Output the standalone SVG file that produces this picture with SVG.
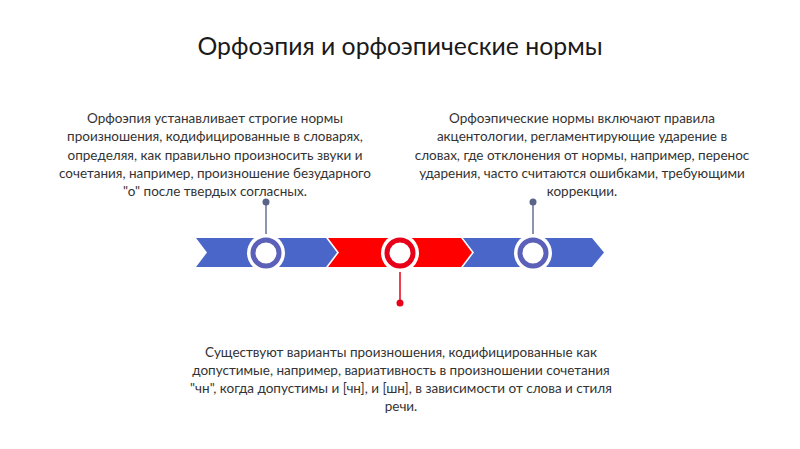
<svg xmlns="http://www.w3.org/2000/svg" width="800" height="449" viewBox="0 0 800 449">
<style>
.t{font-family:Lato,"Open Sans","Liberation Sans",sans-serif;font-size:13.5px;fill:#333;text-anchor:middle}
.title{font-family:Lato,"Open Sans","Liberation Sans",sans-serif;font-size:24.8px;fill:#1a1a1a;text-anchor:middle}
.blue{fill:#4a66c8}
.red{fill:#ff0000}
.halo{fill:#fff}
.rb{fill:#fff;stroke:#5b60b8;stroke-width:5}
.rr{fill:#fff;stroke:#e8001a;stroke-width:5}
.sb{stroke:#6a7192;stroke-width:1.5}
.sr{stroke:#e8001a;stroke-width:1.5}
</style>
<rect width="800" height="449" fill="#fff"/>
<text class="title" x="400" y="55">Орфоэпия и орфоэпические нормы</text>
<g id="connectors">
<line class="sb" x1="266" y1="202" x2="266" y2="238"/>
<circle cx="266" cy="202" r="3.5" fill="#5a6488"/>
<line class="sb" x1="533" y1="202" x2="533" y2="238"/>
<circle cx="533" cy="202" r="3.5" fill="#5a6488"/>
<line class="sr" x1="400" y1="268" x2="400" y2="303"/>
<circle cx="400" cy="303" r="3.5" fill="#e8001a"/>
</g>
<g id="band">
<polygon class="blue" points="196,238 326,238 337,252.5 326,267 196,267 207,252.5"/>
<polygon class="red" points="328,238 461,238 472,252.5 461,267 328,267 339,252.5"/>
<polygon class="blue" points="463,238 592,238 604,252.5 592,267 463,267 474,252.5"/>
</g>
<g id="node1">
<circle class="halo" cx="266" cy="253" r="19"/>
<circle class="rb" cx="266" cy="253" r="13"/>
<text class="t"><tspan x="215" y="123">Орфоэпия устанавливает строгие нормы</tspan><tspan x="215" y="141">произношения, кодифицированные в словарях,</tspan><tspan x="215" y="160">определяя, как правильно произносить звуки и</tspan><tspan x="215" y="178">сочетания, например, произношение безударного</tspan><tspan x="215" y="196">"о" после твердых согласных.</tspan></text>
</g>
<g id="node2">
<circle class="halo" cx="400" cy="253" r="19"/>
<circle class="rr" cx="400" cy="253" r="13"/>
<text class="t"><tspan x="401" y="357">Существуют варианты произношения, кодифицированные как</tspan><tspan x="401" y="375">допустимые, например, вариативность в произношении сочетания</tspan><tspan x="401" y="393">"чн", когда допустимы и [чн], и [шн], в зависимости от слова и стиля</tspan><tspan x="401" y="411">речи.</tspan></text>
</g>
<g id="node3">
<circle class="halo" cx="533" cy="253" r="19"/>
<circle class="rb" cx="533" cy="253" r="13"/>
<text class="t"><tspan x="582" y="123">Орфоэпические нормы включают правила</tspan><tspan x="582" y="141">акцентологии, регламентирующие ударение в</tspan><tspan x="582" y="160">словах, где отклонения от нормы, например, перенос</tspan><tspan x="582" y="178">ударения, часто считаются ошибками, требующими</tspan><tspan x="582" y="196">коррекции.</tspan></text>
</g>
</svg>
